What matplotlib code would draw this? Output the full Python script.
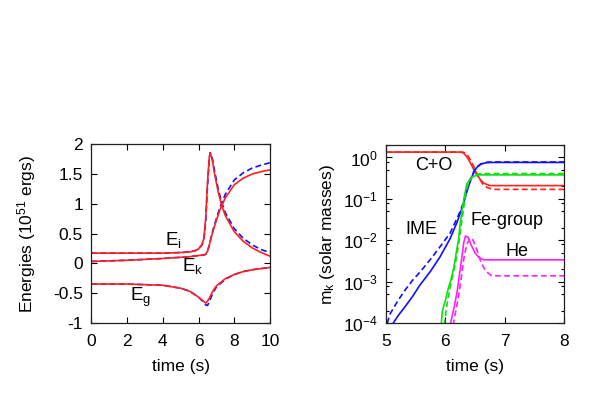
import numpy as np
import matplotlib
matplotlib.use("Agg")
import matplotlib.pyplot as plt
from matplotlib.ticker import LogLocator, NullFormatter, MultipleLocator

plt.rcParams['font.family'] = ['Liberation Sans', 'DejaVu Sans']
plt.rcParams['mathtext.default'] = 'regular'
plt.rcParams['font.size'] = 12.5

# ---- left panel: energies (10^51 ergs) vs time (s)
t_ei = [0, 2, 4, 5, 5.5, 5.8, 6.0, 6.2, 6.3, 6.4, 6.5, 6.6, 6.65, 6.72, 6.8, 6.9, 7.1, 7.3, 7.5, 8.0, 8.5, 9.0, 9.5, 10]
ei_red = [0.17, 0.17, 0.17, 0.18, 0.19, 0.21, 0.24, 0.32, 0.42, 0.75, 1.35, 1.78, 1.85, 1.8, 1.68, 1.5, 1.2, 0.97, 0.8, 0.53, 0.37, 0.26, 0.18, 0.12]
ei_blue = [0.17, 0.17, 0.17, 0.18, 0.19, 0.21, 0.24, 0.31, 0.40, 0.7, 1.28, 1.75, 1.86, 1.83, 1.72, 1.55, 1.25, 1.02, 0.85, 0.58, 0.42, 0.31, 0.23, 0.18]

t_ek = [0, 2, 4, 5, 5.5, 6.0, 6.3, 6.4, 6.5, 6.6, 6.7, 6.8, 7.0, 7.2, 7.5, 8.0, 8.5, 9.0, 9.5, 10]
ek_red = [0.03, 0.05, 0.08, 0.1, 0.11, 0.13, 0.14, 0.15, 0.2, 0.3, 0.42, 0.53, 0.72, 0.9, 1.1, 1.32, 1.43, 1.5, 1.54, 1.57]
ek_blue = [0.03, 0.05, 0.08, 0.1, 0.11, 0.13, 0.14, 0.15, 0.2, 0.3, 0.43, 0.55, 0.75, 0.94, 1.16, 1.4, 1.52, 1.6, 1.65, 1.69]

t_eg = [0, 2, 4, 5, 5.5, 6.0, 6.2, 6.4, 6.5, 6.6, 6.8, 7.0, 7.5, 8.0, 8.5, 9.0, 9.5, 10]
eg_red = [-0.35, -0.35, -0.37, -0.42, -0.47, -0.57, -0.62, -0.67, -0.64, -0.59, -0.47, -0.38, -0.26, -0.19, -0.14, -0.11, -0.09, -0.07]
eg_blue = [-0.35, -0.35, -0.37, -0.42, -0.47, -0.57, -0.63, -0.70, -0.71, -0.65, -0.5, -0.4, -0.27, -0.19, -0.14, -0.11, -0.09, -0.07]

# ---- right panel: masses (solar masses) vs time (s), solid / dashed runs
t_co_s = [5, 6.25, 6.3, 6.35, 6.4, 6.45, 6.5, 6.55, 6.6, 6.65, 6.75, 8]
co_s = [1.35, 1.35, 1.3, 1.1, 0.85, 0.62, 0.45, 0.35, 0.28, 0.24, 0.21, 0.21]
t_co_d = [5, 6.28, 6.33, 6.38, 6.43, 6.48, 6.53, 6.58, 6.63, 6.7, 6.8, 8]
co_d = [1.35, 1.35, 1.3, 1.1, 0.85, 0.6, 0.42, 0.3, 0.23, 0.19, 0.17, 0.17]

t_ime_s = [5.12, 5.2, 5.32, 5.45, 5.57, 5.75, 5.91, 6.08, 6.2, 6.25, 6.3, 6.35, 6.4, 6.45, 6.5, 6.55, 6.6, 6.7, 6.8, 8]
ime_s = [1e-4, 1.5e-4, 2.5e-4, 4.5e-4, 8.3e-4, 1.8e-3, 4e-3, 1.1e-2, 2.8e-2, 4.5e-2, 7e-2, 0.13, 0.22, 0.35, 0.5, 0.62, 0.7, 0.75, 0.76, 0.76]
t_ime_d = [5.02, 5.07, 5.2, 5.32, 5.45, 5.57, 5.75, 5.91, 6.08, 6.2, 6.25, 6.3, 6.35, 6.42, 6.5, 6.6, 6.7, 6.8, 8]
ime_d = [1e-4, 1.7e-4, 3.5e-4, 6.3e-4, 1.1e-3, 1.7e-3, 3.5e-3, 7e-3, 1.5e-2, 3.5e-2, 5e-2, 8e-2, 0.15, 0.3, 0.52, 0.7, 0.77, 0.78, 0.78]

t_fe_s = [5.93, 5.95, 5.97, 6.0, 6.05, 6.1, 6.15, 6.2, 6.22, 6.25, 6.29, 6.36, 6.45, 6.55, 8]
fe_s = [9e-5, 2e-4, 2.5e-4, 3.5e-4, 7e-4, 1.2e-3, 2.5e-3, 7e-3, 1e-2, 2.5e-2, 6.5e-2, 0.23, 0.34, 0.38, 0.38]
t_fe_d = [5.98, 6.03, 6.1, 6.15, 6.2, 6.25, 6.3, 6.35, 6.4, 6.5, 6.6, 8]
fe_d = [9e-5, 3e-4, 1e-3, 2e-3, 5e-3, 1.5e-2, 5e-2, 0.15, 0.28, 0.39, 0.41, 0.41]

t_he_s = [6.08, 6.15, 6.2, 6.25, 6.28, 6.31, 6.34, 6.38, 6.43, 6.5, 6.57, 6.65, 8]
he_s = [9e-5, 2.5e-4, 6e-4, 2e-3, 4e-3, 9e-3, 0.0128, 0.012, 0.008, 0.005, 0.0038, 0.0034, 0.0034]
t_he_d = [6.13, 6.2, 6.26, 6.31, 6.36, 6.42, 6.47, 6.53, 6.6, 6.68, 6.78, 8]
he_d = [9e-5, 3e-4, 1e-3, 3.5e-3, 8e-3, 0.0115, 0.01, 0.006, 0.003, 0.0018, 0.0014, 0.0014]

fig = plt.figure(figsize=(5.98, 4.19), dpi=100)
ax1 = fig.add_axes([0.1527, 0.2298, 0.2988, 0.4258])
ax2 = fig.add_axes([0.6455, 0.2284, 0.2977, 0.4255])

red = '#ff2020'
blue = '#1010ff'
green = '#10e010'
mag = '#ff20ff'
lw = 1.2
dash = (3.5, 2)

ax1.plot(t_ei, ei_blue, '--', color=blue, lw=lw, dashes=dash)
ax1.plot(t_ek, ek_blue, '--', color=blue, lw=lw, dashes=dash)
ax1.plot(t_eg, eg_blue, '--', color=blue, lw=lw, dashes=dash)
ax1.plot(t_ei, ei_red, '-', color=red, lw=lw)
ax1.plot(t_ek, ek_red, '-', color=red, lw=lw)
ax1.plot(t_eg, eg_red, '-', color=red, lw=lw)
ax1.set_xlim(0, 10)
ax1.set_ylim(-1, 2)
ax1.xaxis.set_major_locator(MultipleLocator(2))
ax1.set_yticks([-1, -0.5, 0, 0.5, 1, 1.5, 2], ['-1', '-0.5', '0', '0.5', '1', '1.5', '2'])
ax1.set_xlabel('time (s)', labelpad=7)
ax1.set_ylabel('Energies (10$^{51}$ ergs)', labelpad=11)
ax1.text(4.13, 0.3, 'E$_i$', fontsize=13.5)
ax1.text(5.1, -0.13, 'E$_k$', fontsize=13.5)
ax1.text(2.17, -0.63, 'E$_g$', fontsize=13.5)

for t, y, c, ls in [(t_co_s, co_s, red, '-'), (t_co_d, co_d, red, '--'),
                    (t_ime_s, ime_s, blue, '-'), (t_ime_d, ime_d, blue, '--'),
                    (t_fe_s, fe_s, green, '-'), (t_fe_d, fe_d, green, '--'),
                    (t_he_s, he_s, mag, '-'), (t_he_d, he_d, mag, '--')]:
    if ls == '--':
        ax2.plot(t, y, ls, color=c, lw=lw, dashes=dash)
    else:
        ax2.plot(t, y, ls, color=c, lw=lw)
ax2.set_yscale('log')
ax2.set_xlim(5, 8)
ax2.set_ylim(1e-4, 2)
ax2.xaxis.set_major_locator(MultipleLocator(1))
ax2.yaxis.set_major_locator(LogLocator(base=10, numticks=10))
ax2.yaxis.set_minor_locator(LogLocator(base=10, subs=(2, 5, 8), numticks=10))
ax2.yaxis.set_minor_formatter(NullFormatter())
ax2.set_xlabel('time (s)', labelpad=7)
ax2.set_ylabel('m$_k$ (solar masses)', labelpad=4)
ax2.text(5.49, 0.49, 'C+O', fontsize=13)
ax2.text(5.32, 0.014, 'IME', fontsize=13)
ax2.text(6.42, 0.023, 'Fe-group', fontsize=13)
ax2.text(7.02, 0.0042, 'He', fontsize=13)

for ax in (ax1, ax2):
    ax.tick_params(which='both', direction='in', top=True, right=True, labelsize=12.5)
    ax.tick_params(axis='x', pad=8)
    ax.tick_params(axis='y', pad=6)
    ax.tick_params(which='major', length=4.5, width=0.8)
    ax.tick_params(which='minor', length=2.5, width=0.8)
    for s in ax.spines.values():
        s.set_linewidth(0.9)
        s.set_color('#202020')

fig.savefig('out.png', dpi=100)
